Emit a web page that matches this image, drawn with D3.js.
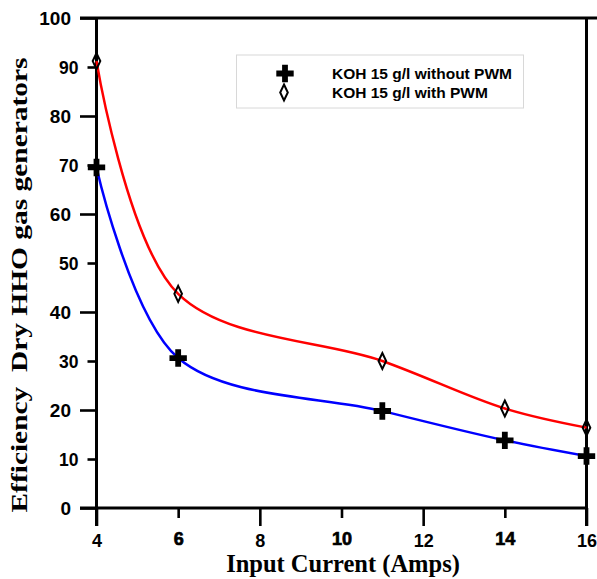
<!DOCTYPE html>
<html><head><meta charset="utf-8">
<script src="https://cdn.jsdelivr.net/npm/d3@7"></script>
<style>body{margin:0;background:#fff}</style>
</head><body><svg id="c" width="597" height="579"></svg>
<script>
const current = [4, 6, 11, 14, 16];
const effWithout = [69.5, 30.6, 19.8, 13.8, 10.6];
const effWith = [91.2, 43.7, 30.0, 20.3, 16.4];
const seriesNames = ["KOH 15 g/l without PWM", "KOH 15 g/l with PWM"];
const xTicks = [4, 6, 8, 10, 12, 14, 16];
const yTicks = [0, 10, 20, 30, 40, 50, 60, 70, 80, 90, 100];
const xTitle = "Input Current (Amps)";
const yTitle = "Efficiency  Dry HHO gas generators";

const svg = d3.select("#c");
const x = d3.scaleLinear().domain([4, 16]).range([96.5, 586.5]);
const y = d3.scaleLinear().domain([0, 100]).range([508, 18]);

// Y axis
const yAx = svg.append("g").attr("transform", "translate(96.5,0)")
  .call(d3.axisLeft(y).tickValues(yTicks).tickFormat(d3.format("d")));
yAx.select(".domain").remove();
yAx.selectAll(".tick").each(function(d) {
  const major = d % 20 === 0;
  const len = major ? 16.5 : 9;
  const g = d3.select(this);
  g.select("line").attr("x2", -len).attr("stroke", "#000").attr("stroke-width", 2.6);
  g.select("text").attr("x", -len - 9).attr("dy", "0.36em")
    .style("font-family", "Arial, 'Liberation Sans', sans-serif")
    .style("font-weight", "bold").style("font-size", major ? "19px" : "17.5px")
    .attr("fill", "#000");
});

// X axis
const xAx = svg.append("g").attr("transform", "translate(0,508)")
  .call(d3.axisBottom(x).tickValues(xTicks).tickFormat(d3.format("d")));
xAx.select(".domain").remove();
xAx.selectAll(".tick").each(function(d) {
  const long = d % 4 === 0;
  const g = d3.select(this);
  g.select("line").attr("y2", long ? 18 : 10).attr("stroke", "#000").attr("stroke-width", 2.6);
  g.select("text").attr("y", long ? 39 : 37).attr("dy", 0)
    .style("font-family", "Arial, 'Liberation Sans', sans-serif")
    .style("font-weight", "bold").style("font-size", "18px")
    .attr("fill", "#000")
    .attr("stroke", long ? "none" : "#000").attr("stroke-width", long ? 0 : 0.7);
});

// frame lines
const frame = svg.append("g").attr("stroke", "#000").attr("stroke-width", 3).attr("fill", "none");
frame.append("line").attr("x1", 96.5).attr("x2", 96.5).attr("y1", y(100)).attr("y2", 526);
frame.append("line").attr("x1", 80).attr("x2", 597).attr("y1", y(100)).attr("y2", y(100));
frame.append("line").attr("x1", 80).attr("x2", 586.5).attr("y1", y(0)).attr("y2", y(0));
frame.append("line").attr("x1", 586.5).attr("x2", 586.5).attr("y1", y(100)).attr("y2", 526);

// curves
const line = d3.line().x((d, i) => x(current[i])).y(d => y(d)).curve(d3.curveCatmullRom.alpha(0.5));
svg.append("path").datum(effWith).attr("d", line).attr("fill", "none").attr("stroke", "#ff0000").attr("stroke-width", 2.5);
svg.append("path").datum(effWithout).attr("d", line).attr("fill", "none").attr("stroke", "#0000ff").attr("stroke-width", 2.5);

const crossSym = d3.symbol(d3.symbolCross, 168)();
const diamondPath = "M0,-8L3.8,0L0,8L-3.8,0Z";

svg.append("g").selectAll("path").data(effWithout).join("path")
  .attr("transform", (d, i) => `translate(${x(current[i])},${y(d)})`)
  .attr("d", crossSym).attr("fill", "#000");
svg.append("g").selectAll("path").data(effWith).join("path")
  .attr("transform", (d, i) => `translate(${x(current[i])},${y(d)})`)
  .attr("d", diamondPath).attr("fill", "none").attr("stroke", "#000").attr("stroke-width", 2);

// legend
const lg = svg.append("g");
lg.append("rect").attr("x", 236.5).attr("y", 55).attr("width", 287).attr("height", 53)
  .attr("fill", "#fff").attr("stroke", "#d8d8d8").attr("stroke-width", 1);
lg.append("path").attr("transform", "translate(285,73.5)").attr("d", crossSym).attr("fill", "#000");
lg.append("path").attr("transform", "translate(284,92.5)").attr("d", diamondPath)
  .attr("fill", "none").attr("stroke", "#000").attr("stroke-width", 2);
lg.selectAll("text").data(seriesNames).join("text")
  .attr("x", 332).attr("y", (d, i) => 73.5 + i * 19.3).attr("dy", "0.36em")
  .style("font-family", "Arial, 'Liberation Sans', sans-serif")
  .style("font-weight", "bold").style("font-size", "15.5px").text(d => d);

// titles
svg.append("text").attr("x", 343).attr("y", 572).attr("text-anchor", "middle")
  .style("font-family", "'Times New Roman', 'Liberation Serif', serif")
  .style("font-weight", "bold").style("font-size", "24.5px").text(xTitle);
svg.append("text").attr("transform", "translate(27,285) rotate(-90)").attr("text-anchor", "middle")
  .style("font-family", "'Times New Roman', 'Liberation Serif', serif")
  .style("font-weight", "bold").style("font-size", "24px")
  .attr("textLength", 455).attr("lengthAdjust", "spacingAndGlyphs")
  .attr("xml:space", "preserve").text(yTitle);
</script></body></html>
